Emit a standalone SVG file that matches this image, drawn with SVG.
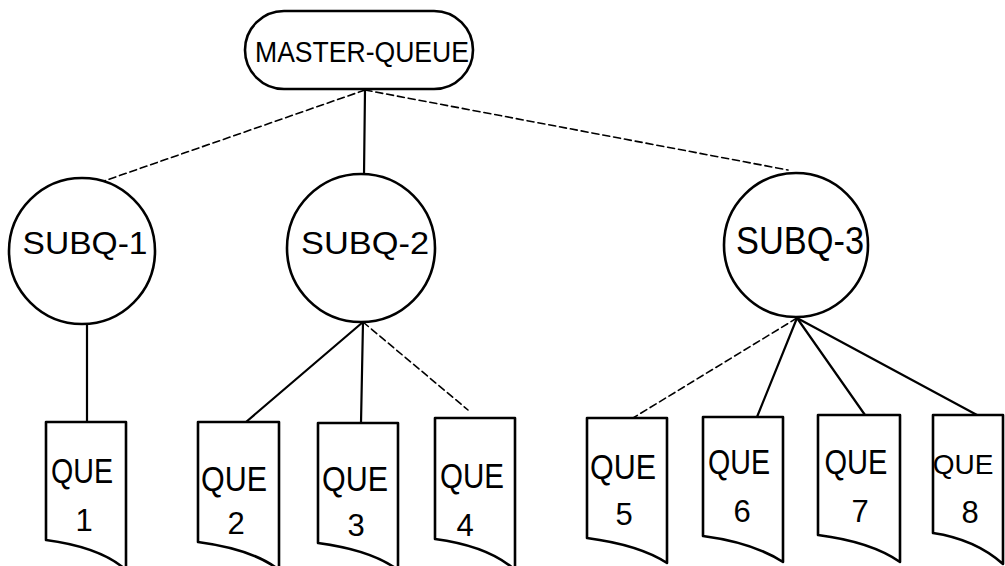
<svg xmlns="http://www.w3.org/2000/svg" width="1005" height="566" viewBox="0 0 1005 566">
  <style>
    .shape { fill: #fff; stroke: #000; stroke-width: 2.6; stroke-linejoin: round; }
    .link { fill: none; stroke: #000; stroke-width: 2.2; stroke-linecap: round; }
    .faint { stroke-dasharray: 7 4; stroke-width: 1.6; }
    .lbl { font-family: "Liberation Sans", "DejaVu Sans", sans-serif; fill: #000; text-anchor: middle; }
    .big { font-size: 29px; }
    .sub { font-size: 32px; }
    .que { font-size: 35px; }
    .num { font-size: 31px; }
  </style>
  <rect width="1005" height="566" fill="#fff"/>

  <!-- connectors -->
  <g id="connectors">
    <line class="link faint" x1="365" y1="90" x2="104" y2="181"/>
    <line class="link" x1="365" y1="90" x2="364" y2="175"/>
    <line class="link faint" x1="365" y1="90" x2="788" y2="170"/>
    <line class="link" x1="87" y1="324" x2="87" y2="422"/>
    <line class="link" x1="363" y1="322" x2="246" y2="422"/>
    <line class="link" x1="363" y1="322" x2="361" y2="423"/>
    <line class="link faint" x1="363" y1="322" x2="468" y2="410"/>
    <line class="link faint" x1="797" y1="318" x2="633" y2="418"/>
    <line class="link" x1="797" y1="318" x2="757" y2="417"/>
    <line class="link" x1="797" y1="318" x2="865" y2="415"/>
    <line class="link" x1="797" y1="318" x2="977" y2="415"/>
  </g>

  <!-- root -->
  <g id="master-queue">
    <rect class="shape" x="245" y="11" width="228" height="78" rx="39"/>
    <text class="lbl big" x="362" y="62" textLength="214" lengthAdjust="spacingAndGlyphs">MASTER-QUEUE</text>
  </g>

  <!-- sub-queues -->
  <g id="subq-1">
    <circle class="shape" cx="82" cy="251" r="73"/>
    <text class="lbl sub" x="85" y="254" textLength="125" lengthAdjust="spacingAndGlyphs">SUBQ-1</text>
  </g>
  <g id="subq-2">
    <circle class="shape" cx="361" cy="248" r="74"/>
    <text class="lbl sub" x="365" y="254" textLength="128" lengthAdjust="spacingAndGlyphs">SUBQ-2</text>
  </g>
  <g id="subq-3">
    <circle class="shape" cx="796" cy="245" r="72"/>
    <text class="lbl sub" x="800" y="254" style="font-size:38px" textLength="128" lengthAdjust="spacingAndGlyphs">SUBQ-3</text>
  </g>

  <!-- leaf queues -->
  <g id="que-1">
    <path class="shape" d="M46,422 H126 V570 C106,552 76,544 46,540 Z"/>
    <text class="lbl que" x="82" y="483" textLength="62" lengthAdjust="spacingAndGlyphs">QUE</text>
    <text class="lbl num" x="84" y="531">1</text>
  </g>
  <g id="que-2">
    <path class="shape" d="M198,422 H279 V570 C259,554 228,546 198,542 Z"/>
    <text class="lbl que" x="234" y="491" textLength="66" lengthAdjust="spacingAndGlyphs">QUE</text>
    <text class="lbl num" x="236" y="534">2</text>
  </g>
  <g id="que-3">
    <path class="shape" d="M318,423 H398 V570 C378,555 348,547 318,543 Z"/>
    <text class="lbl que" x="355" y="491" textLength="66" lengthAdjust="spacingAndGlyphs">QUE</text>
    <text class="lbl num" x="356" y="536">3</text>
  </g>
  <g id="que-4">
    <path class="shape" d="M435,418 H515 V570 C495,552 465,543 435,539 Z"/>
    <text class="lbl que" x="472" y="488" textLength="64" lengthAdjust="spacingAndGlyphs">QUE</text>
    <text class="lbl num" x="465" y="536">4</text>
  </g>
  <g id="que-5">
    <path class="shape" d="M587,418 H667 V563 C647,550 617,542 587,538 Z"/>
    <text class="lbl que" x="623" y="479" textLength="66" lengthAdjust="spacingAndGlyphs">QUE</text>
    <text class="lbl num" x="624" y="525">5</text>
  </g>
  <g id="que-6">
    <path class="shape" d="M703,417 H783 V562 C763,549 733,540 703,536 Z"/>
    <text class="lbl que" x="739" y="474" textLength="62" lengthAdjust="spacingAndGlyphs">QUE</text>
    <text class="lbl num" x="742" y="522">6</text>
  </g>
  <g id="que-7">
    <path class="shape" d="M818,415 H900 V562 C880,548 849,539 818,535 Z"/>
    <text class="lbl que" x="856" y="474" textLength="63" lengthAdjust="spacingAndGlyphs">QUE</text>
    <text class="lbl num" x="860" y="522">7</text>
  </g>
  <g id="que-8">
    <path class="shape" d="M933,415 H1003 V564 C985,548 960,537 933,533 Z"/>
    <text class="lbl" x="963" y="474" style="font-size:28px">QUE</text>
    <text class="lbl num" x="970" y="523">8</text>
  </g>
</svg>
